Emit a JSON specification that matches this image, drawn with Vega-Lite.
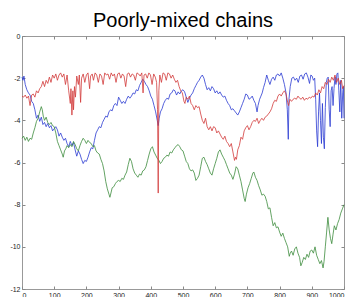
{
  "$schema": "https://vega.github.io/schema/vega-lite/v6.json",
  "width": 322,
  "height": 253,
  "autosize": "none",
  "padding": {"left": 22, "top": 36, "right": 8, "bottom": 8},
  "background": "white",
  "title": {"text": "Poorly-mixed chains", "font": "Liberation Sans", "fontSize": 20, "fontWeight": "normal", "color": "#000", "offset": 1, "anchor": "middle"},
  "config": {
    "view": {"stroke": "#999", "strokeWidth": 1},
    "axis": {"grid": false, "domain": false, "tickColor": "#888", "tickSize": -3, "labelFont": "Liberation Sans", "labelFontSize": 7, "labelColor": "#222", "title": null}
  },
  "datasets": {
    "r": [{"t":0,"v":-2.85},{"t":5,"v":-2.9},{"t":10,"v":-2.8},{"t":15,"v":-2.95},{"t":20,"v":-2.85},{"t":25,"v":-3.3},{"t":30,"v":-2.8},{"t":35,"v":-2.75},{"t":40,"v":-2.9},{"t":45,"v":-2.6},{"t":50,"v":-2.7},{"t":55,"v":-2.5},{"t":60,"v":-2.4},{"t":65,"v":-2.15},{"t":70,"v":-2.4},{"t":75,"v":-2.1},{"t":80,"v":-2.25},{"t":85,"v":-1.95},{"t":90,"v":-2.2},{"t":95,"v":-1.85},{"t":100,"v":-2.0},{"t":105,"v":-1.8},{"t":110,"v":-2.1},{"t":115,"v":-1.85},{"t":120,"v":-1.75},{"t":125,"v":-1.95},{"t":130,"v":-1.8},{"t":135,"v":-2.3},{"t":140,"v":-1.85},{"t":145,"v":-2.6},{"t":150,"v":-3.2},{"t":152,"v":-2.5},{"t":155,"v":-3.75},{"t":158,"v":-2.6},{"t":160,"v":-3.5},{"t":163,"v":-2.4},{"t":166,"v":-2.9},{"t":170,"v":-1.9},{"t":175,"v":-2.3},{"t":178,"v":-1.85},{"t":182,"v":-3.15},{"t":185,"v":-2.0},{"t":190,"v":-1.8},{"t":195,"v":-2.2},{"t":200,"v":-1.85},{"t":205,"v":-1.75},{"t":210,"v":-2.5},{"t":213,"v":-1.9},{"t":218,"v":-1.8},{"t":222,"v":-2.1},{"t":227,"v":-1.75},{"t":232,"v":-1.85},{"t":237,"v":-2.2},{"t":242,"v":-1.8},{"t":247,"v":-1.9},{"t":252,"v":-2.3},{"t":257,"v":-1.75},{"t":262,"v":-1.85},{"t":267,"v":-1.8},{"t":272,"v":-2.05},{"t":277,"v":-1.75},{"t":282,"v":-1.9},{"t":287,"v":-1.8},{"t":292,"v":-2.2},{"t":297,"v":-1.8},{"t":302,"v":-1.75},{"t":307,"v":-2.0},{"t":312,"v":-1.8},{"t":317,"v":-1.9},{"t":322,"v":-2.4},{"t":327,"v":-1.8},{"t":332,"v":-1.75},{"t":337,"v":-1.95},{"t":342,"v":-1.8},{"t":347,"v":-1.85},{"t":352,"v":-2.1},{"t":357,"v":-1.75},{"t":362,"v":-1.8},{"t":367,"v":-1.9},{"t":372,"v":-1.75},{"t":376,"v":-2.7},{"t":379,"v":-1.85},{"t":384,"v":-1.8},{"t":389,"v":-2.0},{"t":394,"v":-1.75},{"t":399,"v":-1.85},{"t":404,"v":-2.3},{"t":409,"v":-1.8},{"t":414,"v":-1.95},{"t":418,"v":-2.2},{"t":421,"v":-3.5},{"t":423,"v":-7.45},{"t":425,"v":-2.6},{"t":428,"v":-1.85},{"t":433,"v":-2.2},{"t":438,"v":-1.75},{"t":443,"v":-1.8},{"t":448,"v":-2.1},{"t":453,"v":-1.75},{"t":458,"v":-1.8},{"t":463,"v":-2.0},{"t":468,"v":-1.85},{"t":473,"v":-2.05},{"t":478,"v":-2.2},{"t":483,"v":-2.1},{"t":488,"v":-2.4},{"t":493,"v":-2.6},{"t":498,"v":-2.7},{"t":503,"v":-3.1},{"t":506,"v":-3.2},{"t":510,"v":-2.9},{"t":515,"v":-3.0},{"t":520,"v":-2.85},{"t":525,"v":-3.2},{"t":530,"v":-3.3},{"t":535,"v":-3.5},{"t":540,"v":-3.3},{"t":545,"v":-3.4},{"t":550,"v":-3.35},{"t":555,"v":-3.7},{"t":560,"v":-4.0},{"t":565,"v":-4.15},{"t":570,"v":-3.9},{"t":575,"v":-4.3},{"t":580,"v":-4.45},{"t":585,"v":-4.3},{"t":590,"v":-4.5},{"t":595,"v":-4.3},{"t":600,"v":-4.35},{"t":605,"v":-4.6},{"t":610,"v":-4.5},{"t":615,"v":-4.65},{"t":620,"v":-4.8},{"t":625,"v":-4.9},{"t":630,"v":-4.75},{"t":635,"v":-5.0},{"t":640,"v":-5.1},{"t":645,"v":-5.25},{"t":650,"v":-5.1},{"t":655,"v":-5.5},{"t":660,"v":-5.9},{"t":663,"v":-5.75},{"t":666,"v":-5.85},{"t":670,"v":-5.4},{"t":675,"v":-5.2},{"t":680,"v":-4.8},{"t":685,"v":-4.9},{"t":690,"v":-4.5},{"t":695,"v":-4.35},{"t":700,"v":-4.25},{"t":705,"v":-4.45},{"t":710,"v":-4.3},{"t":715,"v":-4.1},{"t":720,"v":-4.0},{"t":725,"v":-4.05},{"t":730,"v":-3.9},{"t":735,"v":-4.15},{"t":740,"v":-4.0},{"t":745,"v":-3.9},{"t":750,"v":-4.0},{"t":755,"v":-3.85},{"t":760,"v":-3.8},{"t":765,"v":-3.7},{"t":770,"v":-3.6},{"t":775,"v":-3.45},{"t":780,"v":-3.2},{"t":785,"v":-3.05},{"t":790,"v":-3.1},{"t":795,"v":-2.85},{"t":800,"v":-2.75},{"t":805,"v":-2.85},{"t":810,"v":-2.7},{"t":815,"v":-2.6},{"t":820,"v":-2.75},{"t":825,"v":-3.15},{"t":828,"v":-3.3},{"t":832,"v":-3.0},{"t":837,"v":-3.1},{"t":842,"v":-3.0},{"t":847,"v":-2.95},{"t":852,"v":-3.0},{"t":857,"v":-2.85},{"t":862,"v":-2.95},{"t":867,"v":-3.0},{"t":872,"v":-2.9},{"t":877,"v":-3.05},{"t":882,"v":-2.95},{"t":887,"v":-3.0},{"t":892,"v":-2.9},{"t":897,"v":-2.95},{"t":902,"v":-2.85},{"t":907,"v":-2.9},{"t":912,"v":-2.7},{"t":917,"v":-2.8},{"t":922,"v":-2.55},{"t":927,"v":-2.7},{"t":932,"v":-2.4},{"t":937,"v":-2.5},{"t":942,"v":-2.2},{"t":947,"v":-2.3},{"t":952,"v":-2.05},{"t":957,"v":-2.2},{"t":962,"v":-1.95},{"t":967,"v":-2.1},{"t":972,"v":-1.85},{"t":977,"v":-2.2},{"t":982,"v":-2.0},{"t":987,"v":-2.3},{"t":992,"v":-2.1},{"t":996,"v":-2.5},{"t":1000,"v":-2.35}],
    "b": [{"t":0,"v":-1.95},{"t":3,"v":-2.1},{"t":6,"v":-1.9},{"t":10,"v":-2.3},{"t":15,"v":-2.55},{"t":20,"v":-2.7},{"t":25,"v":-2.8},{"t":30,"v":-3.1},{"t":35,"v":-3.2},{"t":40,"v":-3.5},{"t":45,"v":-3.9},{"t":50,"v":-3.75},{"t":55,"v":-4.05},{"t":60,"v":-3.85},{"t":65,"v":-4.2},{"t":70,"v":-4.1},{"t":75,"v":-4.3},{"t":80,"v":-4.15},{"t":85,"v":-4.35},{"t":90,"v":-4.25},{"t":95,"v":-4.5},{"t":100,"v":-4.4},{"t":105,"v":-4.3},{"t":110,"v":-4.45},{"t":115,"v":-4.75},{"t":120,"v":-4.6},{"t":125,"v":-4.8},{"t":130,"v":-4.95},{"t":135,"v":-4.85},{"t":140,"v":-5.1},{"t":145,"v":-5.25},{"t":150,"v":-5.0},{"t":155,"v":-5.2},{"t":160,"v":-5.05},{"t":165,"v":-5.4},{"t":170,"v":-5.7},{"t":175,"v":-5.45},{"t":180,"v":-5.6},{"t":185,"v":-5.85},{"t":190,"v":-6.05},{"t":195,"v":-5.9},{"t":200,"v":-5.95},{"t":205,"v":-5.75},{"t":210,"v":-5.5},{"t":215,"v":-5.3},{"t":220,"v":-5.35},{"t":225,"v":-4.95},{"t":230,"v":-4.6},{"t":235,"v":-4.45},{"t":240,"v":-4.3},{"t":245,"v":-4.35},{"t":250,"v":-4.1},{"t":255,"v":-3.95},{"t":260,"v":-3.8},{"t":265,"v":-3.85},{"t":270,"v":-3.6},{"t":275,"v":-3.5},{"t":280,"v":-3.55},{"t":285,"v":-3.3},{"t":290,"v":-3.2},{"t":295,"v":-3.3},{"t":300,"v":-2.9},{"t":305,"v":-3.05},{"t":310,"v":-3.2},{"t":315,"v":-3.1},{"t":320,"v":-3.2},{"t":325,"v":-3.0},{"t":330,"v":-2.85},{"t":335,"v":-2.95},{"t":340,"v":-2.85},{"t":345,"v":-2.7},{"t":350,"v":-2.75},{"t":355,"v":-2.55},{"t":360,"v":-2.6},{"t":365,"v":-2.35},{"t":370,"v":-2.2},{"t":375,"v":-2.05},{"t":380,"v":-2.15},{"t":385,"v":-2.3},{"t":390,"v":-2.4},{"t":395,"v":-2.6},{"t":400,"v":-2.85},{"t":405,"v":-3.0},{"t":410,"v":-3.3},{"t":415,"v":-3.6},{"t":420,"v":-4.0},{"t":423,"v":-4.25},{"t":426,"v":-3.9},{"t":430,"v":-3.6},{"t":435,"v":-3.45},{"t":440,"v":-3.2},{"t":445,"v":-3.05},{"t":450,"v":-2.95},{"t":455,"v":-3.0},{"t":460,"v":-2.75},{"t":465,"v":-2.7},{"t":470,"v":-2.55},{"t":475,"v":-2.6},{"t":480,"v":-2.8},{"t":485,"v":-2.65},{"t":490,"v":-2.75},{"t":495,"v":-2.6},{"t":500,"v":-2.55},{"t":505,"v":-2.65},{"t":510,"v":-2.9},{"t":515,"v":-3.15},{"t":520,"v":-2.95},{"t":525,"v":-2.8},{"t":530,"v":-2.7},{"t":535,"v":-2.5},{"t":540,"v":-2.35},{"t":545,"v":-2.2},{"t":550,"v":-2.1},{"t":555,"v":-1.95},{"t":560,"v":-1.85},{"t":565,"v":-2.0},{"t":570,"v":-2.3},{"t":575,"v":-2.55},{"t":580,"v":-2.45},{"t":585,"v":-2.6},{"t":590,"v":-2.4},{"t":595,"v":-2.5},{"t":600,"v":-2.7},{"t":605,"v":-2.6},{"t":610,"v":-2.75},{"t":615,"v":-2.65},{"t":620,"v":-2.8},{"t":625,"v":-2.9},{"t":630,"v":-2.85},{"t":635,"v":-3.05},{"t":640,"v":-3.2},{"t":645,"v":-3.3},{"t":650,"v":-3.5},{"t":655,"v":-3.45},{"t":660,"v":-3.55},{"t":665,"v":-3.65},{"t":670,"v":-3.75},{"t":675,"v":-3.6},{"t":680,"v":-3.4},{"t":685,"v":-3.2},{"t":690,"v":-3.0},{"t":695,"v":-2.75},{"t":700,"v":-2.8},{"t":705,"v":-3.0},{"t":710,"v":-2.95},{"t":715,"v":-2.85},{"t":720,"v":-3.05},{"t":725,"v":-3.2},{"t":730,"v":-3.6},{"t":733,"v":-3.3},{"t":738,"v":-3.0},{"t":742,"v":-2.85},{"t":746,"v":-2.7},{"t":750,"v":-2.45},{"t":755,"v":-2.2},{"t":760,"v":-1.85},{"t":765,"v":-2.1},{"t":770,"v":-2.3},{"t":775,"v":-2.05},{"t":780,"v":-1.95},{"t":785,"v":-2.1},{"t":790,"v":-1.85},{"t":795,"v":-1.8},{"t":800,"v":-1.9},{"t":805,"v":-1.75},{"t":810,"v":-2.0},{"t":815,"v":-2.3},{"t":820,"v":-2.7},{"t":824,"v":-3.5},{"t":827,"v":-4.9},{"t":829,"v":-3.0},{"t":833,"v":-2.4},{"t":838,"v":-2.0},{"t":843,"v":-1.95},{"t":848,"v":-2.1},{"t":853,"v":-2.0},{"t":858,"v":-2.2},{"t":863,"v":-1.9},{"t":868,"v":-1.85},{"t":873,"v":-2.05},{"t":878,"v":-1.8},{"t":883,"v":-1.75},{"t":888,"v":-1.95},{"t":893,"v":-2.25},{"t":897,"v":-1.85},{"t":901,"v":-1.9},{"t":905,"v":-2.1},{"t":909,"v":-2.0},{"t":912,"v":-3.0},{"t":915,"v":-4.5},{"t":918,"v":-5.25},{"t":921,"v":-3.6},{"t":924,"v":-2.7},{"t":927,"v":-4.0},{"t":930,"v":-5.1},{"t":933,"v":-3.2},{"t":936,"v":-4.8},{"t":939,"v":-5.35},{"t":942,"v":-3.4},{"t":945,"v":-2.2},{"t":948,"v":-2.0},{"t":951,"v":-1.95},{"t":954,"v":-3.5},{"t":957,"v":-4.3},{"t":960,"v":-2.6},{"t":963,"v":-2.4},{"t":966,"v":-3.3},{"t":969,"v":-2.5},{"t":972,"v":-1.95},{"t":975,"v":-2.3},{"t":978,"v":-1.8},{"t":981,"v":-1.75},{"t":984,"v":-2.6},{"t":987,"v":-3.6},{"t":990,"v":-2.1},{"t":993,"v":-3.9},{"t":996,"v":-2.7},{"t":998,"v":-2.4},{"t":1000,"v":-3.9}],
    "g": [{"t":0,"v":-4.85},{"t":5,"v":-4.75},{"t":10,"v":-4.95},{"t":15,"v":-4.8},{"t":20,"v":-5.0},{"t":25,"v":-4.85},{"t":30,"v":-4.9},{"t":35,"v":-4.6},{"t":40,"v":-4.35},{"t":45,"v":-4.05},{"t":50,"v":-3.9},{"t":55,"v":-3.6},{"t":60,"v":-3.35},{"t":63,"v":-3.5},{"t":66,"v":-3.8},{"t":70,"v":-4.0},{"t":75,"v":-3.85},{"t":80,"v":-4.1},{"t":85,"v":-4.2},{"t":90,"v":-4.1},{"t":95,"v":-4.25},{"t":100,"v":-4.3},{"t":105,"v":-4.6},{"t":110,"v":-5.0},{"t":115,"v":-5.2},{"t":120,"v":-5.4},{"t":125,"v":-5.6},{"t":128,"v":-5.75},{"t":132,"v":-5.45},{"t":136,"v":-5.35},{"t":140,"v":-5.2},{"t":145,"v":-5.3},{"t":150,"v":-5.15},{"t":155,"v":-5.25},{"t":160,"v":-5.0},{"t":165,"v":-5.15},{"t":170,"v":-5.35},{"t":175,"v":-5.45},{"t":180,"v":-5.2},{"t":185,"v":-5.0},{"t":190,"v":-4.85},{"t":195,"v":-4.95},{"t":200,"v":-5.1},{"t":205,"v":-4.95},{"t":210,"v":-5.05},{"t":215,"v":-5.1},{"t":220,"v":-5.25},{"t":225,"v":-5.2},{"t":230,"v":-5.45},{"t":235,"v":-5.55},{"t":240,"v":-5.6},{"t":245,"v":-5.85},{"t":250,"v":-6.05},{"t":255,"v":-6.4},{"t":260,"v":-6.9},{"t":265,"v":-7.25},{"t":270,"v":-7.5},{"t":273,"v":-7.65},{"t":277,"v":-7.4},{"t":280,"v":-7.2},{"t":285,"v":-7.15},{"t":290,"v":-7.0},{"t":295,"v":-6.9},{"t":300,"v":-6.85},{"t":305,"v":-6.9},{"t":310,"v":-6.75},{"t":315,"v":-6.8},{"t":320,"v":-6.6},{"t":325,"v":-6.45},{"t":330,"v":-6.1},{"t":335,"v":-5.8},{"t":340,"v":-5.95},{"t":345,"v":-6.3},{"t":350,"v":-6.5},{"t":355,"v":-6.6},{"t":360,"v":-6.7},{"t":365,"v":-6.55},{"t":370,"v":-6.6},{"t":375,"v":-6.4},{"t":380,"v":-6.35},{"t":385,"v":-6.2},{"t":390,"v":-5.9},{"t":395,"v":-5.6},{"t":400,"v":-5.35},{"t":405,"v":-5.25},{"t":410,"v":-5.5},{"t":415,"v":-5.65},{"t":420,"v":-5.8},{"t":425,"v":-5.9},{"t":430,"v":-6.05},{"t":435,"v":-5.95},{"t":440,"v":-5.8},{"t":445,"v":-5.75},{"t":450,"v":-5.65},{"t":455,"v":-5.7},{"t":460,"v":-5.5},{"t":465,"v":-5.55},{"t":470,"v":-5.4},{"t":475,"v":-5.3},{"t":480,"v":-5.2},{"t":485,"v":-5.15},{"t":490,"v":-5.25},{"t":495,"v":-5.4},{"t":500,"v":-5.45},{"t":505,"v":-5.7},{"t":510,"v":-5.95},{"t":515,"v":-6.05},{"t":520,"v":-6.3},{"t":525,"v":-6.4},{"t":530,"v":-6.35},{"t":535,"v":-6.5},{"t":540,"v":-6.85},{"t":545,"v":-6.75},{"t":550,"v":-6.6},{"t":555,"v":-6.2},{"t":560,"v":-5.8},{"t":565,"v":-5.75},{"t":570,"v":-5.95},{"t":575,"v":-6.1},{"t":580,"v":-6.3},{"t":585,"v":-6.5},{"t":590,"v":-6.6},{"t":595,"v":-6.3},{"t":600,"v":-6.05},{"t":605,"v":-5.8},{"t":610,"v":-5.5},{"t":615,"v":-5.4},{"t":620,"v":-5.6},{"t":625,"v":-5.75},{"t":630,"v":-5.9},{"t":635,"v":-6.1},{"t":640,"v":-6.3},{"t":645,"v":-6.5},{"t":650,"v":-6.6},{"t":655,"v":-6.8},{"t":660,"v":-6.55},{"t":665,"v":-6.2},{"t":670,"v":-6.3},{"t":675,"v":-6.6},{"t":680,"v":-6.9},{"t":685,"v":-7.3},{"t":690,"v":-7.7},{"t":693,"v":-7.85},{"t":697,"v":-7.5},{"t":702,"v":-7.2},{"t":707,"v":-7.0},{"t":712,"v":-6.75},{"t":717,"v":-6.5},{"t":720,"v":-6.45},{"t":725,"v":-6.7},{"t":730,"v":-6.85},{"t":735,"v":-7.1},{"t":740,"v":-7.3},{"t":745,"v":-7.55},{"t":750,"v":-7.5},{"t":755,"v":-7.6},{"t":760,"v":-7.85},{"t":765,"v":-8.2},{"t":770,"v":-8.15},{"t":775,"v":-8.6},{"t":780,"v":-9.0},{"t":785,"v":-8.85},{"t":790,"v":-9.1},{"t":795,"v":-9.05},{"t":800,"v":-9.3},{"t":805,"v":-9.5},{"t":810,"v":-9.35},{"t":815,"v":-9.6},{"t":820,"v":-9.8},{"t":825,"v":-10.0},{"t":830,"v":-10.45},{"t":833,"v":-10.3},{"t":837,"v":-10.2},{"t":842,"v":-10.4},{"t":847,"v":-10.1},{"t":852,"v":-10.0},{"t":857,"v":-10.3},{"t":862,"v":-10.5},{"t":866,"v":-10.9},{"t":870,"v":-10.75},{"t":875,"v":-10.5},{"t":880,"v":-10.6},{"t":885,"v":-10.35},{"t":890,"v":-10.5},{"t":895,"v":-10.2},{"t":900,"v":-10.15},{"t":905,"v":-10.3},{"t":910,"v":-10.0},{"t":915,"v":-10.4},{"t":920,"v":-10.6},{"t":925,"v":-10.8},{"t":930,"v":-10.65},{"t":935,"v":-11.0},{"t":938,"v":-10.7},{"t":942,"v":-10.0},{"t":946,"v":-9.3},{"t":950,"v":-8.6},{"t":954,"v":-9.2},{"t":958,"v":-9.6},{"t":962,"v":-9.85},{"t":966,"v":-9.4},{"t":970,"v":-9.0},{"t":975,"v":-9.2},{"t":980,"v":-8.9},{"t":985,"v":-8.7},{"t":990,"v":-8.4},{"t":995,"v":-8.2},{"t":1000,"v":-8.0}]
  },
  "layer": [
    {
      "data": {"name": "b"},
      "mark": {"type": "line", "color": "#2a3ad2", "strokeWidth": 0.8},
      "encoding": {
        "x": {"field": "t", "type": "quantitative", "scale": {"domain": [0, 1000], "nice": false}, "axis": {"orient": "bottom", "values": [0,100,200,300,400,500,600,700,800,900,1000], "labelPadding": 5, "labelExpr": "'' + datum.value"}},
        "y": {"field": "v", "type": "quantitative", "scale": {"domain": [-12, 0], "nice": false}, "axis": {"orient": "left", "values": [0,-2,-4,-6,-8,-10,-12], "labelPadding": 5, "labelExpr": "'' + datum.value"}}
      }
    },
    {
      "data": {"name": "g"},
      "mark": {"type": "line", "color": "#3c8c3c", "strokeWidth": 0.8},
      "encoding": {
        "x": {"field": "t", "type": "quantitative", "axis": {"orient": "top", "values": [0,100,200,300,400,500,600,700,800,900,1000], "labels": false}},
        "y": {"field": "v", "type": "quantitative", "axis": {"orient": "right", "values": [0,-2,-4,-6,-8,-10,-12], "labels": false}}
      }
    },
    {
      "data": {"name": "r"},
      "mark": {"type": "line", "color": "#d23a3a", "strokeWidth": 0.8},
      "encoding": {
        "x": {"field": "t", "type": "quantitative", "axis": null},
        "y": {"field": "v", "type": "quantitative", "axis": null}
      }
    }
  ],
  "resolve": {"axis": {"x": "independent", "y": "independent"}}
}
